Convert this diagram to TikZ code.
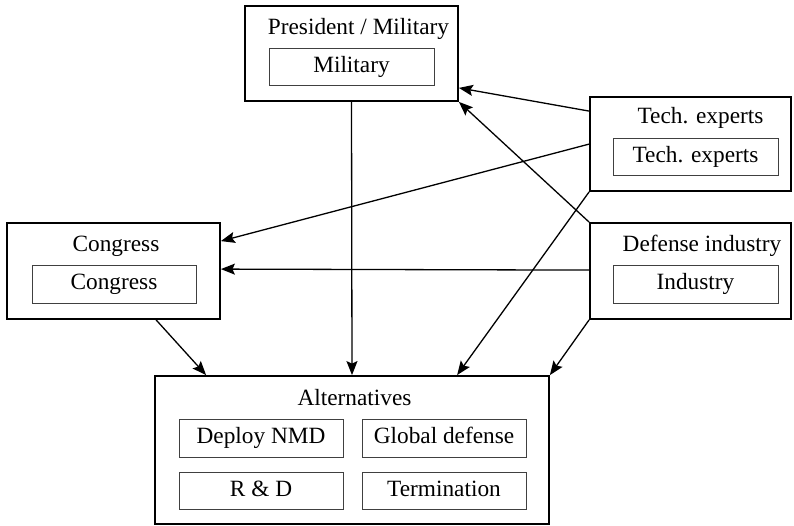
\documentclass[tikz,border=0pt]{standalone}
\usepackage{fontspec}
\setmainfont{Liberation Serif}
\usetikzlibrary{arrows.meta,calc}
\begin{document}
\begin{tikzpicture}[x=1pt,y=-1pt,
  every node/.style={font=\fontsize{23.3}{28}\selectfont},
  outerbox/.style={draw,line width=1.8pt,inner sep=0pt},
  innerbox/.style={draw=black!75,line width=1pt,inner sep=0pt,
    minimum width=165,minimum height=37,text height=16pt,text depth=5pt},
  title/.style={anchor=base,inner sep=0pt},
  link/.style={line width=1.3pt,-{Stealth[length=14pt,width=11pt,inset=2.5pt]}}]
\useasboundingbox (0,0) rectangle (794,526);

% actor groups
\node[outerbox,minimum width=213,minimum height=95] (pres) at (351.5,53.5) {};
\node[outerbox,minimum width=201,minimum height=94] (tech) at (690.5,144) {};
\node[outerbox,minimum width=201,minimum height=96] (defense) at (690.5,271) {};
\node[outerbox,minimum width=213,minimum height=96] (congress) at (113.5,271) {};
\node[outerbox,minimum width=394,minimum height=148] (alt) at (352,450) {};

% group titles
\node[title] (prestitle) at (358.5,35) {President / Military};
\node[title] (techtitle) at (700.5,124) {Tech. experts};
\node[title] (deftitle) at (702,252) {Defense industry};
\node[title] (congtitle) at (116,252) {Congress};
\node[title] (alttitle) at (354.5,405) {Alternatives};

% members
\node[innerbox] (military) at (351.5,67.5) {Military};
\node[innerbox] (techin) at (695.5,157.5) {Tech. experts};
\node[innerbox] (industry) at (695.5,284.5) {Industry};
\node[innerbox,minimum width=164] (congin) at (114,284.5) {Congress};
\node[innerbox,minimum width=164,minimum height=38] (deploy) at (261,438) {Deploy NMD};
\node[innerbox,minimum width=164,minimum height=38] (global) at (444,438) {Global defense};
\node[innerbox,minimum width=164] (rd) at (261,490.5) {R \& D};
\node[innerbox,minimum width=164] (term) at (444,490.5) {Termination};

% influences
\draw[link] ($(tech.north west)+(0,15)$) -- ($(pres.south east)+(0,-14)$);
\draw[link] (defense.north west) -- (pres.south east);
\draw[link] ($(tech.north west)+(0,48)$) -- ($(congress.north east)+(0,19)$);
\draw[link] ($(defense.north west)+(0,48)$) -- ($(congress.north east)+(0,47)$);
\draw[link] (pres.south) -- (alt.north);
\draw[link] ($(congress.south west)+(150,0)$) -- ($(alt.north west)+(52,0)$);
\draw[link] (tech.south west) -- ($(alt.north west)+(303,0)$);
\draw[link] (defense.south west) -- (alt.north east);
\end{tikzpicture}
\end{document}
